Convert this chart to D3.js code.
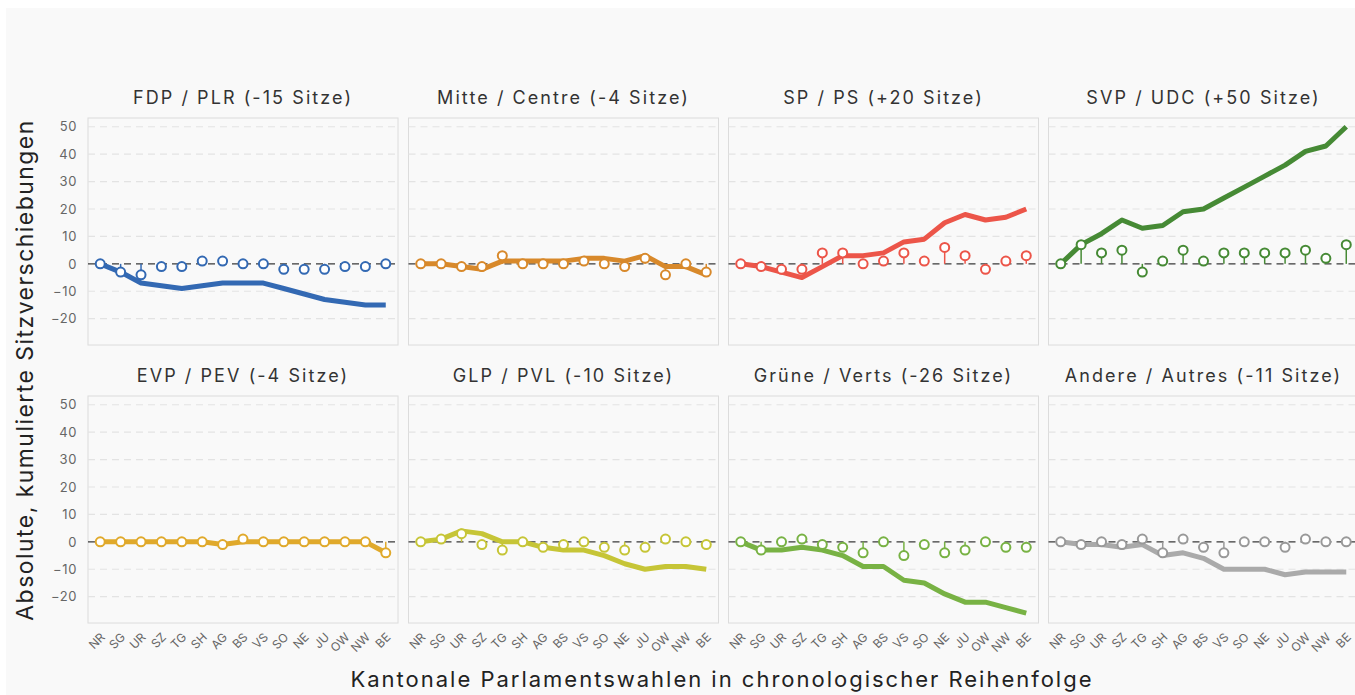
<!DOCTYPE html>
<html><head><meta charset="utf-8">
<script src="https://cdn.jsdelivr.net/npm/d3@7"></script>
<style>
html,body{margin:0;padding:0;background:#fff;}
svg{display:block;}
text{font-family:Inter,"Open Sans",sans-serif;}
</style></head>
<body>
<svg id="chart" width="1355" height="695"></svg>
<script>
const cantons = ["NR","SG","UR","SZ","TG","SH","AG","BS","VS","SO","NE","JU","OW","NW","BE"];
const parties = ["FDP / PLR (-15 Sitze)","Mitte / Centre (-4 Sitze)","SP / PS (+20 Sitze)","SVP / UDC (+50 Sitze)",
                 "EVP / PEV (-4 Sitze)","GLP / PVL (-10 Sitze)","Grüne / Verts (-26 Sitze)","Andere / Autres (-11 Sitze)"];
const partyColors = ["#3369b3","#d8892b","#ec5549","#468a35","#e0a92b","#c6c537","#78b244","#aaaaaa"];
const pointColors = ["#3369b3","#d8892b","#ec5549","#468a35","#e0a92b","#c6c537","#78b244","#999999"];
// seat change per election
const changeFDP   = [0,-3,-4,-1,-1, 1, 1, 0, 0,-2,-2,-2,-1,-1, 0];
const changeMitte = [0, 0,-1,-1, 3, 0, 0, 0, 1, 0,-1, 2,-4, 0,-3];
const changeSP    = [0,-1,-2,-2, 4, 4, 0, 1, 4, 1, 6, 3,-2, 1, 3];
const changeSVP   = [0, 7, 4, 5,-3, 1, 5, 1, 4, 4, 4, 4, 5, 2, 7];
const changeEVP   = [0, 0, 0, 0, 0, 0,-1, 1, 0, 0, 0, 0, 0, 0,-4];
const changeGLP   = [0, 1, 3,-1,-3, 0,-2,-1, 0,-2,-3,-2, 1, 0,-1];
const changeGruene= [0,-3, 0, 1,-1,-2,-4, 0,-5,-1,-4,-3, 0,-2,-2];
const changeAndere= [0,-1, 0,-1, 1,-4, 1,-2,-4, 0, 0,-2, 1, 0, 0];
// cumulative seat change
const cumFDP   = [0,-3,-7,-8,-9,-8,-7,-7,-7,-9,-11,-13,-14,-15,-15];
const cumMitte = [0, 0,-1,-2, 1, 1, 1, 1, 2, 2, 1, 3,-1,-1,-4];
const cumSP    = [0,-1,-3,-5,-1, 3, 3, 4, 8, 9,15,18,16,17,20];
const cumSVP   = [0, 7,11,16,13,14,19,20,24,28,32,36,41,43,50];
const cumEVP   = [0, 0, 0, 0, 0, 0,-1, 0, 0, 0, 0, 0, 0, 0,-4];
const cumGLP   = [0, 1, 4, 3, 0, 0,-2,-3,-3,-5,-8,-10,-9,-9,-10];
const cumGruene= [0,-3,-3,-2,-3,-5,-9,-9,-14,-15,-19,-22,-22,-24,-26];
const cumAndere= [0,-1,-1,-2,-1,-5,-4,-6,-10,-10,-10,-12,-11,-11,-11];
const yTicks = [-20,-10,0,10,20,30,40,50];

const changes = [changeFDP,changeMitte,changeSP,changeSVP,changeEVP,changeGLP,changeGruene,changeAndere];
const cums = [cumFDP,cumMitte,cumSP,cumSVP,cumEVP,cumGLP,cumGruene,cumAndere];

const svg = d3.select("#chart");
svg.append("rect").attr("x",6).attr("y",8).attr("width",1355).attr("height",695).attr("fill","#f9f9f9");

const panelW = 310, panelH = 227;
const colX = [88, 408.5, 728.5, 1048.5];
const rowY = [118, 396];

const x = d3.scalePoint().domain(cantons).range([0, panelW]).padding(0.6);
const y = d3.scaleLinear().domain([-29.6, 53.2]).range([panelH, 0]);

function fitSpacing(sel, target) {
  const n = sel.text().length;
  const w = sel.node().getComputedTextLength();
  return (target - w) / Math.max(1, n - 1);
}

const titles = [];
parties.forEach((name, i) => {
  const col = i % 4, row = Math.floor(i / 4);
  const g = svg.append("g").attr("transform", `translate(${colX[col]},${rowY[row]})`);
  g.append("rect").attr("width", panelW).attr("height", panelH)
    .attr("fill", "#f9f9f9").attr("stroke", "#dcdcdc").attr("stroke-width", 1);
  g.selectAll("line.grid").data(yTicks.filter(t => t !== 0)).join("line")
    .attr("x1", 0).attr("x2", panelW).attr("y1", d => y(d)).attr("y2", d => y(d))
    .attr("stroke", "#e3e3e3").attr("stroke-width", 1.2).attr("stroke-dasharray", "7,5");
  g.append("line").attr("x1", 0).attr("x2", panelW).attr("y1", y(0)).attr("y2", y(0))
    .attr("stroke", "#3a3a3a").attr("stroke-width", 1.3).attr("stroke-dasharray", "7,5");

  const line = d3.line().x((d, k) => x(cantons[k])).y(d => y(d));
  g.append("path").datum(cums[i]).attr("d", line).attr("fill", "none")
    .attr("stroke", partyColors[i]).attr("stroke-width", 5).attr("stroke-linejoin", "round");

  g.selectAll("line.stem").data(changes[i]).join("line")
    .attr("x1", (d, k) => x(cantons[k])).attr("x2", (d, k) => x(cantons[k]))
    .attr("y1", y(0)).attr("y2", d => y(d))
    .attr("stroke", pointColors[i]).attr("stroke-width", 1.5);
  g.selectAll("circle").data(changes[i]).join("circle")
    .attr("cx", (d, k) => x(cantons[k])).attr("cy", d => y(d)).attr("r", 4.5)
    .attr("fill", "#fff").attr("stroke", pointColors[i]).attr("stroke-width", 2);

  titles.push(svg.append("text").attr("x", colX[col] + panelW / 2).attr("y", rowY[row] - 14)
    .attr("text-anchor", "middle").attr("font-size", 18).attr("fill", "#333").text(name));

  if (col === 0) {
    const ya = d3.axisLeft(y).tickValues(yTicks).tickSize(0).tickPadding(11);
    const ag = g.append("g").call(ya);
    ag.select(".domain").remove();
    ag.selectAll("text").attr("font-size", 13).attr("fill", "#666")
      .style("font-family", "Inter, sans-serif").attr("letter-spacing", 0.6);
  }
  if (row === 1) {
    const xa = d3.axisBottom(x).tickSize(0).tickPadding(0);
    const ag = g.append("g").attr("transform", `translate(0,${panelH})`).call(xa);
    ag.select(".domain").remove();
    ag.selectAll("text").attr("font-size", 12).attr("fill", "#666")
      .style("font-family", "Inter, sans-serif")
      .attr("text-anchor", "end").attr("dy", null).attr("y", 0)
      .attr("transform", "translate(5,15) rotate(-45)");
  }
});
// common letter spacing for panel titles, fitted on the first title width
const ls = fitSpacing(titles[0], 218);
titles.forEach(t => t.attr("letter-spacing", ls));

const yt = svg.append("text").attr("transform", "translate(33,370) rotate(-90)")
  .attr("text-anchor", "middle").attr("font-size", 23).attr("fill", "#222")
  .text("Absolute, kumulierte Sitzverschiebungen");
yt.attr("letter-spacing", fitSpacing(yt, 500));
const xt = svg.append("text").attr("x", 722).attr("y", 687)
  .attr("text-anchor", "middle").attr("font-size", 22).attr("fill", "#222")
  .text("Kantonale Parlamentswahlen in chronologischer Reihenfolge");
xt.attr("letter-spacing", fitSpacing(xt, 741));
</script>
</body></html>
